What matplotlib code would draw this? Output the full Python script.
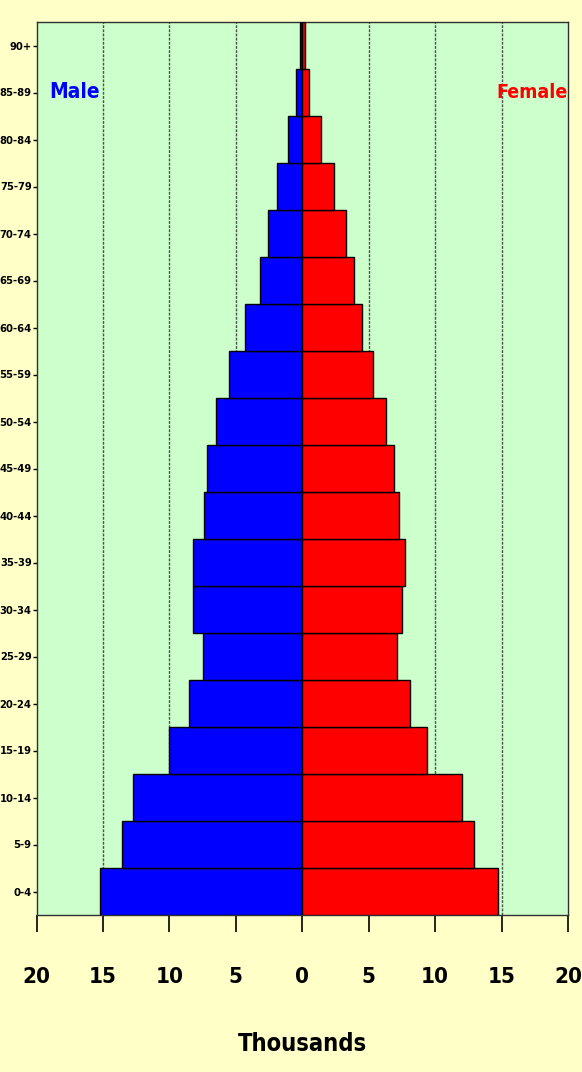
import matplotlib
matplotlib.use('Agg')
import matplotlib.pyplot as plt
import numpy as np

# 年龄组（从下到上）
age_groups = ['0-4', '5-9', '10-14', '15-19', '20-24', '25-29', '30-34',
              '35-39', '40-44', '45-49', '50-54', '55-59', '60-64', '65-69',
              '70-74', '75-79', '80-84', '85-89', '90+']

# 男性 / 女性人数（千人）
male = [15.2, 13.6, 12.7, 10.0, 8.5, 7.5, 8.2, 8.2, 7.4, 7.2, 6.5, 5.5,
        4.3, 3.2, 2.6, 1.9, 1.1, 0.5, 0.2]
female = [14.7, 12.9, 12.0, 9.4, 8.1, 7.1, 7.5, 7.7, 7.3, 6.9, 6.3, 5.3,
          4.5, 3.9, 3.3, 2.4, 1.4, 0.5, 0.2]

x_ticks = [-20, -15, -10, -5, 0, 5, 10, 15, 20]

plt.rcParams['font.family'] = ['DejaVu Sans']
plt.rcParams['font.stretch'] = 'condensed'
plt.rcParams['font.weight'] = 'bold'

W, H = 582, 1072
fig = plt.figure(figsize=(W / 100, H / 100), dpi=100, facecolor='#FFFFC8')
ax = fig.add_axes([36.5 / W, (H - 915) / H, (568 - 36.5) / W, (915 - 22) / H])
ax.set_facecolor('#CCFFCC')

y = np.arange(len(age_groups))
ax.barh(y, [-v for v in male], height=1.0, color='#0000FF',
        edgecolor='black', linewidth=1, zorder=3)
ax.barh(y, female, height=1.0, color='#FF0000',
        edgecolor='black', linewidth=1, zorder=3)

ax.set_xlim(-20, 20)
ax.set_ylim(-0.5, len(age_groups) - 0.5)

# 网格线
for g in [-15, -10, -5, 5, 10, 15]:
    ax.axvline(g, color='#505050', linestyle=(0, (2, 1)), linewidth=1,
               zorder=1)

ax.set_xticks(x_ticks)
ax.set_xticklabels([str(abs(t)) for t in x_ticks], fontsize=16,
                   fontweight='bold')
ax.tick_params(axis='x', direction='out', length=12, width=1.2,
               pad=25.5, colors='black')
ax.set_yticks(y)
ax.set_yticklabels(age_groups, fontsize=8, fontweight='bold')
ax.tick_params(axis='y', direction='out', length=3, width=1, pad=0.5)

for s in ax.spines.values():
    s.set_color('#303030')
    s.set_linewidth(1)

ax.set_xlabel('Thousands', fontsize=17, fontweight='bold', labelpad=32.5)

ax.text(-17.1, 17, 'Male', color='#0000FF', fontsize=15,
        fontweight='bold', ha='center', va='center', zorder=5)
ax.text(17.3, 17, 'Female', color='#FF0000', fontsize=14,
        fontweight='bold', ha='center', va='center', zorder=5)

fig.savefig('out.png', dpi=100, facecolor=fig.get_facecolor())
